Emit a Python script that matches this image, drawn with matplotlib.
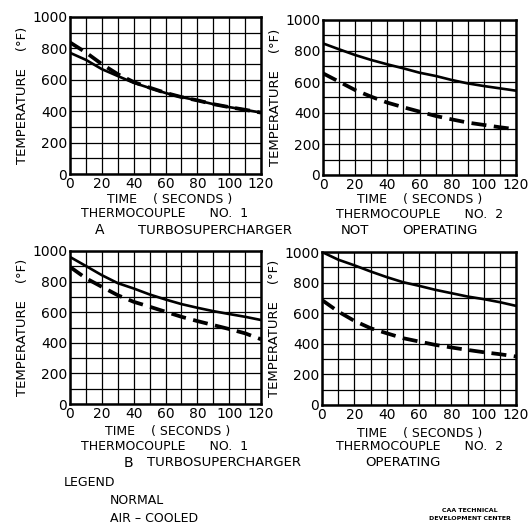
import matplotlib
matplotlib.use('Agg')
import matplotlib.pyplot as plt

W, H = 532, 527

time_s = [0, 10, 20, 30, 40, 50, 60, 70, 80, 90, 100, 110, 120]

a1_normal = [772, 727, 668, 624, 581, 548, 516, 490, 469, 445, 426, 409, 391]
a1_air = [838, 774, 700, 636, 586, 550, 517, 490, 469, 445, 426, 409, 391]
a2_normal = [849, 811, 774, 742, 714, 688, 660, 639, 613, 591, 574, 559, 544]
a2_air = [656, 602, 548, 505, 467, 437, 409, 381, 359, 338, 323, 308, 295]
b1_normal = [961, 902, 842, 790, 755, 716, 683, 653, 629, 607, 588, 570, 549]
b1_air = [896, 822, 766, 711, 668, 636, 603, 570, 542, 516, 490, 462, 423]
b2_normal = [1000, 950, 913, 873, 836, 803, 779, 753, 731, 709, 692, 672, 648]
b2_air = [686, 611, 550, 502, 469, 437, 415, 393, 376, 360, 345, 332, 317]

x_ticks = [0, 20, 40, 60, 80, 100, 120]
y_ticks = [0, 200, 400, 600, 800, 1000]

plt.rcParams['font.family'] = ['DejaVu Sans']


def px_axes(fig, left, top, right, bottom):
    return fig.add_axes([left / W, 1 - bottom / H, (right - left) / W, (bottom - top) / H])


def txt(fig, x, y, s, size=9, ha='left', weight='normal'):
    fig.text(x / W, 1 - y / H, s, fontsize=size, ha=ha, va='center', fontweight=weight)


def panel(ax, normal, air):
    ax.set_xlim(0, 120)
    ax.set_ylim(0, 1000)
    ax.set_xticks(x_ticks)
    ax.set_xticks(range(0, 121, 10), minor=True)
    ax.set_yticks(y_ticks)
    ax.set_yticks(range(0, 1001, 100), minor=True)
    ax.grid(which='both', color='black', linewidth=0.9)
    ax.tick_params(which='both', length=0, labelsize=10, pad=2)
    for sp in ax.spines.values():
        sp.set_linewidth(1.8)
    ax.plot(time_s, normal, color='black', linewidth=1.9)
    ax.plot(time_s, air, color='black', linewidth=2.7, linestyle=(0, (4, 2)))
    ax.set_ylabel('TEMPERATURE    (°F)', fontsize=9.5, labelpad=2)


fig = plt.figure(figsize=(W / 100, H / 100), dpi=100)

ax_a1 = px_axes(fig, 70, 17, 261, 174)
ax_a2 = px_axes(fig, 323, 20, 516, 175)
ax_b1 = px_axes(fig, 70, 251, 261, 404)
ax_b2 = px_axes(fig, 322, 252, 516, 405)

panel(ax_a1, a1_normal, a1_air)
panel(ax_a2, a2_normal, a2_air)
panel(ax_b1, b1_normal, b1_air)
panel(ax_b2, b2_normal, b2_air)

# axis captions
for cx, ty in [(170, 199), (420, 200), (168, 431), (420, 433)]:
    txt(fig, cx, ty, 'TIME    ( SECONDS )', ha='center')
txt(fig, 165, 214, 'THERMOCOUPLE      NO.  1', ha='center')
txt(fig, 420, 215, 'THERMOCOUPLE      NO.  2', ha='center')
txt(fig, 165, 446, 'THERMOCOUPLE      NO.  1', ha='center')
txt(fig, 420, 447, 'THERMOCOUPLE      NO.  2', ha='center')

txt(fig, 100, 230, 'A', size=10, ha='center')
txt(fig, 138, 230, 'TURBOSUPERCHARGER', size=9.5)
txt(fig, 355, 230, 'NOT', size=9.5, ha='center')
txt(fig, 440, 230, 'OPERATING', size=9.5, ha='center')

txt(fig, 128, 463, 'B', size=10, ha='center')
txt(fig, 147, 463, 'TURBOSUPERCHARGER', size=9.5)
txt(fig, 403, 463, 'OPERATING', size=9.5, ha='center')

# legend (text only, as in the original)
txt(fig, 64, 483, 'LEGEND', size=9)
txt(fig, 110, 500, 'NORMAL', size=9)
txt(fig, 110, 518, 'AIR \u2013 COOLED', size=9)

txt(fig, 470, 510, 'CAA TECHNICAL', size=4.5, ha='center', weight='bold')
txt(fig, 470, 518, 'DEVELOPMENT CENTER', size=4.5, ha='center', weight='bold')

fig.savefig('out.png', dpi=100)
